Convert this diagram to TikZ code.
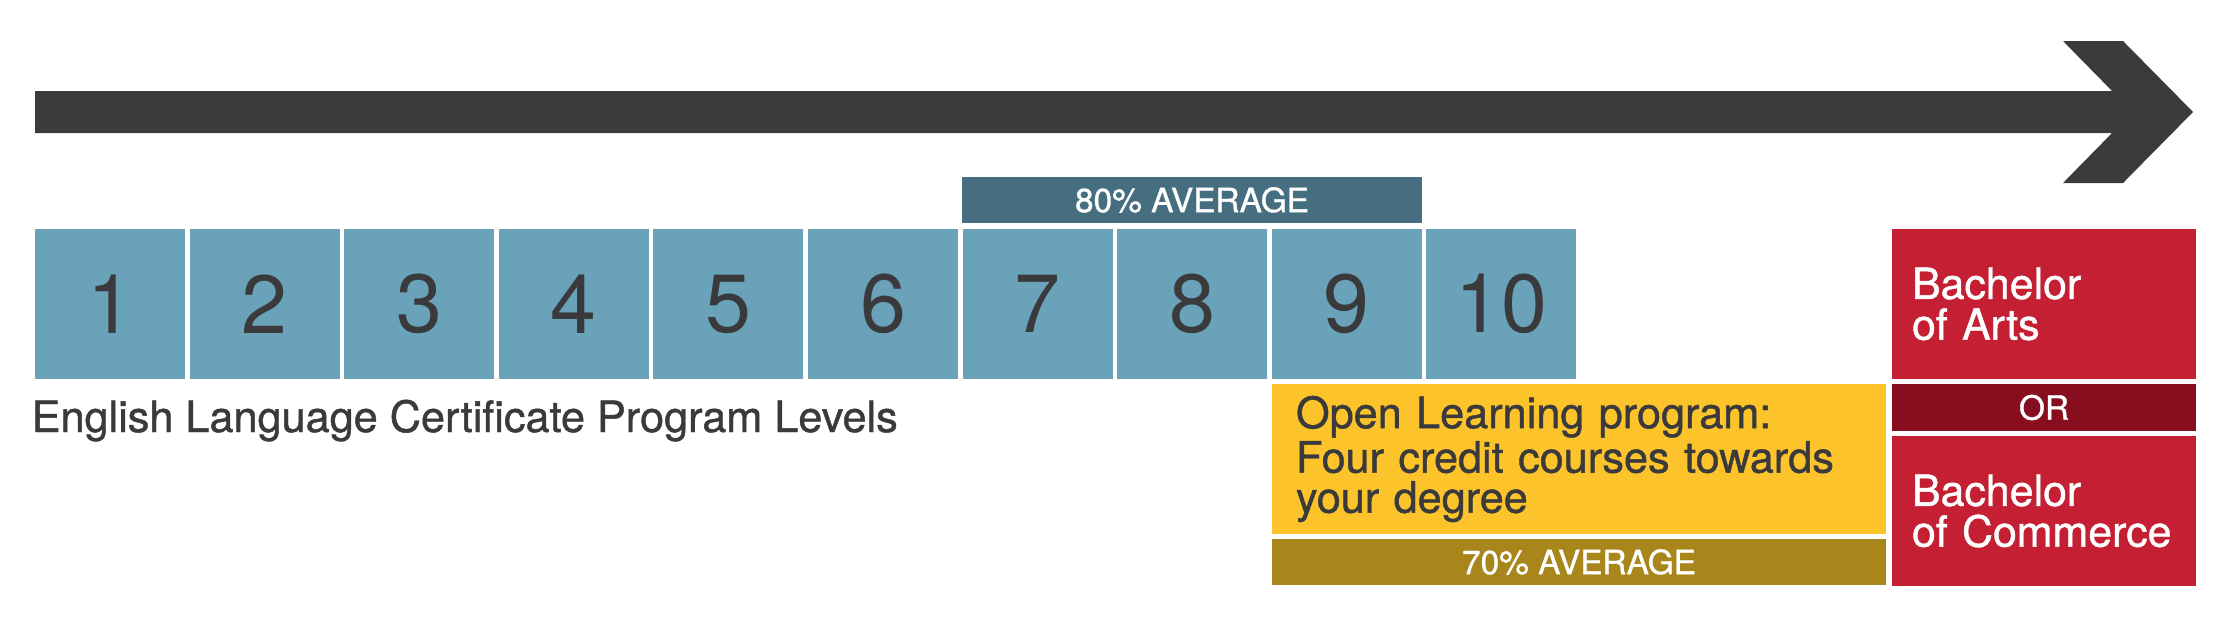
\documentclass[tikz,border=0pt]{standalone}
\usepackage{fontspec}
\setmainfont{TeX Gyre Heros}
\newfontfamily\medfont{TeX Gyre Heros}[FakeBold=1]
\definecolor{arrowgrey}{HTML}{3B3B3D}
\definecolor{textgrey}{HTML}{3A3A3C}
\definecolor{levelblue}{HTML}{69A2B9}
\definecolor{avgteal}{HTML}{456F80}
\definecolor{openyellow}{HTML}{FCC42A}
\definecolor{avgolive}{HTML}{A8861B}
\definecolor{degreered}{HTML}{C41F33}
\definecolor{ordarkred}{HTML}{880D1F}
\tikzset{
    levelbox/.style={fill=levelblue, minimum width=1.5cm, minimum height=1.5cm, inner sep=0pt, text=textgrey, font=\fontsize{23.5}{28}\selectfont},
    avgbar/.style={minimum height=0.46cm, inner sep=0pt, text=white, font=\medfont\fontsize{9.5}{11}\selectfont},
    degreebox/.style={fill=degreered, minimum width=3.04cm, minimum height=1.5cm, inner xsep=0.2cm, inner ysep=0pt, text width=2.64cm, align=left, text=white, font=\medfont\fontsize{12.2}{11.6}\selectfont},
}
\begin{document}
\begin{tikzpicture}
        \useasboundingbox (0, 0) rectangle (22.35, -6.35);

        % timeline arrow
        \fill[arrowgrey] (0.35, -0.91) -- (21.12, -0.91) -- (20.63, -0.41) -- (21.23, -0.41)
            -- (21.93, -1.12) -- (21.23, -1.83) -- (20.63, -1.83) -- (21.12, -1.33)
            -- (0.35, -1.33) -- cycle;

        % certificate levels
        \foreach \i in {1,...,10}{
            \node[levelbox] (lvl\i) at ({1.10 + (\i - 1)*1.546}, -3.04) {\i};
        };
        \node[anchor=base west, inner sep=0pt, text=textgrey, font=\medfont\fontsize{12.3}{14}\selectfont] (levels) at (0.31, -4.32) {English Language Certificate Program Levels};

        \node[avgbar, fill=avgteal, minimum width=4.6cm] (avg80) at (11.92, -2.00) {80\% AVERAGE};

        % open learning
        \node[fill=openyellow, minimum width=6.14cm, minimum height=1.5cm, inner xsep=0.24cm, inner ysep=0pt, text width=5.66cm, align=left, text=textgrey, font=\medfont\fontsize{12.3}{11.4}\selectfont] (openlearn) at (15.79, -4.59) {Open Learning program:\\ Four credit courses towards\\ your degree};
        \node[avgbar, fill=avgolive, minimum width=6.14cm] (avg70) at (15.79, -5.62) {70\% AVERAGE};

        % degrees
        \node[degreebox] (ba) at (20.44, -3.04) {Bachelor\\ of Arts};
        \node[avgbar, fill=ordarkred, minimum width=3.04cm, minimum height=0.47cm] (or) at (20.44, -4.075) {OR};
        \node[degreebox] (bcom) at (20.44, -5.11) {Bachelor\\ of Commerce};
    \end{tikzpicture}
\end{document}
